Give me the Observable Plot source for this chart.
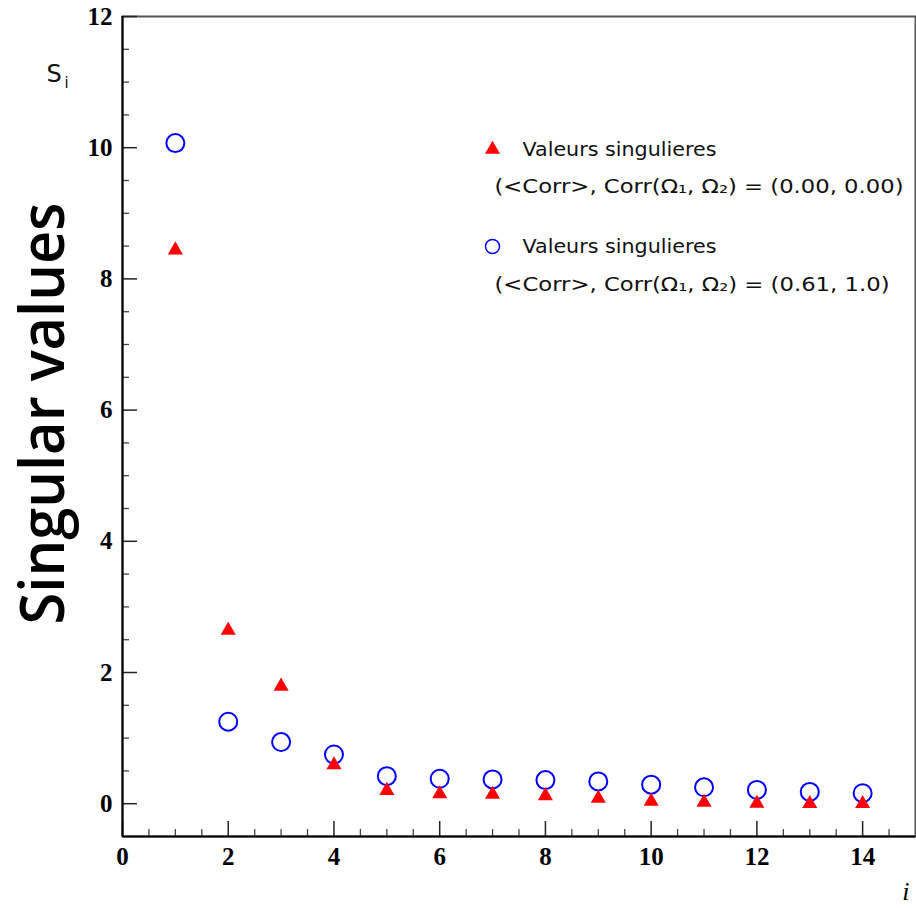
<!DOCTYPE html>
<html>
<head>
<meta charset="utf-8">
<script src="https://cdn.jsdelivr.net/npm/d3@7"></script>
<script src="https://cdn.jsdelivr.net/npm/@observablehq/plot@0.6"></script>
<style>
  html, body { margin: 0; padding: 0; background: #fff; }
  #chart svg { display: block; background: linear-gradient(#fcfff2, #e9f7fd); }
</style>
</head>
<body>
<div id="chart"></div>
<script>
// ---- data ----
const indices = [1, 2, 3, 4, 5, 6, 7, 8, 9, 10, 11, 12, 13, 14];
const svUncorr = [8.44, 2.64, 1.79, 0.59, 0.20, 0.15, 0.14, 0.12, 0.08, 0.035, 0.02, 0.005, 0.0, 0.0];
const svCorr = [10.07, 1.25, 0.94, 0.75, 0.42, 0.38, 0.37, 0.36, 0.34, 0.29, 0.25, 0.21, 0.18, 0.16];
const xMajor = [0, 2, 4, 6, 8, 10, 12, 14];
const xMinor = d3.range(1, 30).map(k => k / 2).filter(v => v % 2 !== 0);
const yMajor = [0, 2, 4, 6, 8, 10, 12];
const yMinor = d3.range(1, 24).map(k => k / 2).filter(v => v % 2 !== 0);
const legendLabel = "Valeurs singulieres";
const legendLine1 = "(<Corr>, Corr(Ω₁, Ω₂) = (0.00, 0.00)";
const legendLine2 = "(<Corr>, Corr(Ω₁, Ω₂) = (0.61, 1.0)";
const yTitle = "Singular values";

const uncorr = indices.map((i, k) => ({i, s: svUncorr[k]}));
const corr = indices.map((i, k) => ({i, s: svCorr[k]}));

const W = 916, H = 908;
const mL = 122, mT = 16, mR = 1, mB = 72;
const innerW = W - mL - mR, innerH = H - mT - mB;

const legendFont = {fontFamily: "DejaVu Sans", fontSize: 19, fontWeight: "normal", fill: "#111", textAnchor: "start", lineAnchor: "middle", frameAnchor: "top-left"};

const chart = Plot.plot({
  width: W, height: H,
  marginLeft: mL, marginTop: mT, marginRight: mR, marginBottom: mB,
  style: {fontFamily: "Liberation Serif", fontSize: "25px", fontWeight: "bold", background: "transparent", overflow: "visible"},
  x: {domain: [0, 15]},
  y: {domain: [-0.5, 12]},
  marks: [
    Plot.frame({stroke: "#555", strokeWidth: 2}),
    // minor and major ticks (inward)
    Plot.tickY(yMinor, {y: d => d, insetRight: innerW - 7, stroke: "#444", strokeWidth: 1.3}),
    Plot.tickY(yMajor, {y: d => d, insetRight: innerW - 15, stroke: "#222", strokeWidth: 1.5}),
    Plot.tickX(xMinor, {x: d => d, insetTop: innerH - 7, stroke: "#444", strokeWidth: 1.3}),
    Plot.tickX(xMajor, {x: d => d, insetTop: innerH - 15, stroke: "#222", strokeWidth: 1.5}),
    Plot.ruleX([0], {stroke: "#000", strokeWidth: 2}),
    Plot.ruleY([-0.5], {stroke: "#000", strokeWidth: 2}),
    Plot.axisY({ticks: yMajor, tickSize: 0, tickPadding: 10, fill: "#000", label: null}),
    Plot.axisX({ticks: xMajor, tickSize: 0, tickPadding: 11, fill: "#000", label: null}),
    // data
    Plot.dot(corr, {x: "i", y: "s", r: 9, symbol: "circle", stroke: "#0000ff", strokeWidth: 2, fill: "none"}),
    Plot.dot(uncorr, {x: "i", y: "s", r: 5.6, symbol: "triangle", fill: "#ff0000", stroke: "none"}),
    // legend
    Plot.dot([0], {frameAnchor: "top-left", dx: 370, dy: 133, r: 5.6, symbol: "triangle", fill: "#ff0000", stroke: "none"}),
    Plot.text([legendLabel], {...legendFont, text: d => d, dx: 400, dy: 133, className: "leg-a"}),
    Plot.text([legendLine1], {...legendFont, text: d => d, dx: 372, dy: 170, className: "leg-b"}),
    Plot.dot([0], {frameAnchor: "top-left", dx: 370, dy: 230, r: 7, symbol: "circle", stroke: "#0000ff", strokeWidth: 1.5, fill: "none"}),
    Plot.text([legendLabel], {...legendFont, text: d => d, dx: 400, dy: 230, className: "leg-a"}),
    Plot.text([legendLine2], {...legendFont, text: d => d, dx: 372, dy: 268, className: "leg-c"}),
    // axis titles
    Plot.text([yTitle], {text: d => d, frameAnchor: "left", lineAnchor: "middle", dx: -78, dy: -13, rotate: -90, fontFamily: "Open Sans", fontSize: 62, fontWeight: 600, fill: "#000", textAnchor: "middle", className: "ytitle"}),
    Plot.text(["S"], {text: d => d, frameAnchor: "top-left", lineAnchor: "middle", dx: -76, dy: 58, fontFamily: "DejaVu Sans", fontSize: 24, fontWeight: "normal", fill: "#111", textAnchor: "start"}),
    Plot.text(["i"], {text: d => d, frameAnchor: "top-left", lineAnchor: "middle", dx: -58, dy: 67, fontFamily: "DejaVu Sans", fontSize: 15, fontWeight: "normal", fill: "#111", textAnchor: "start"}),
    Plot.text(["i"], {text: d => d, frameAnchor: "bottom-right", lineAnchor: "middle", dx: -6, dy: 55, fontFamily: "Liberation Serif", fontStyle: "italic", fontWeight: "normal", fontSize: 26, fill: "#000", textAnchor: "end"})
  ]
});
document.getElementById("chart").appendChild(chart);
// fit texts to their measured lengths in the reference
const svg = d3.select(chart);
svg.selectAll(".ytitle text").attr("textLength", 422).attr("lengthAdjust", "spacingAndGlyphs");
svg.selectAll(".leg-a text").attr("textLength", 194).attr("lengthAdjust", "spacingAndGlyphs");
svg.selectAll(".leg-b text").attr("textLength", 409).attr("lengthAdjust", "spacingAndGlyphs");
svg.selectAll(".leg-c text").attr("textLength", 395).attr("lengthAdjust", "spacingAndGlyphs");
</script>
</body>
</html>
